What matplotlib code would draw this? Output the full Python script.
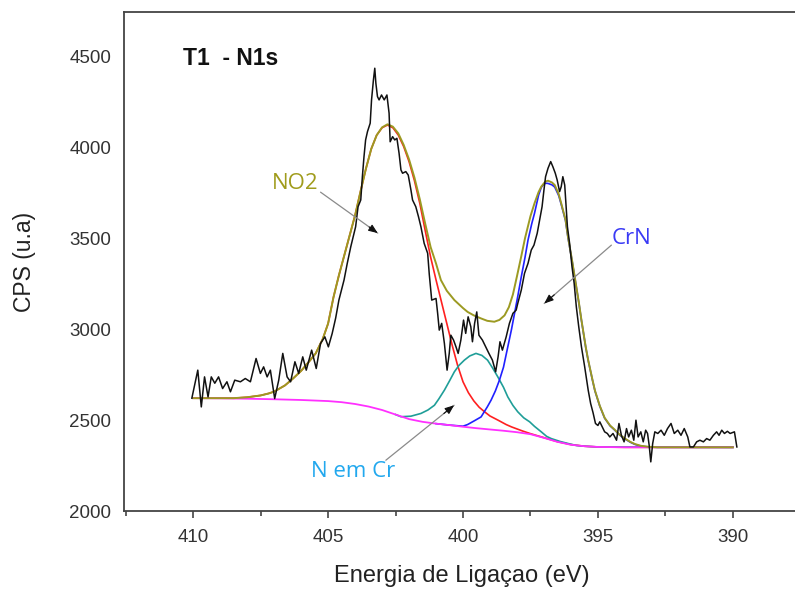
import matplotlib
matplotlib.use("Agg")
import matplotlib.pyplot as plt
from matplotlib.ticker import MultipleLocator

# ---------------- data ----------------
spec_ev = [410.05, 409.83, 409.70, 409.58, 409.45, 409.33, 409.20, 409.06, 408.91, 408.75,
           408.62, 408.46, 408.25, 408.07, 407.88, 407.67, 407.51, 407.39, 407.26, 407.14,
           406.98, 406.83, 406.68, 406.52, 406.39, 406.23, 406.09, 405.94, 405.81, 405.61,
           405.44, 405.28, 405.12, 404.99, 404.85, 404.72, 404.60, 404.41, 404.29, 404.16,
           403.98, 403.89, 403.79, 403.73, 403.67, 403.61, 403.54, 403.44, 403.39, 403.32,
           403.27, 403.23, 403.17, 403.11, 403.02, 402.92, 402.82, 402.74, 402.70, 402.61,
           402.53, 402.45, 402.37, 402.30, 402.24, 402.12, 402.03, 401.93, 401.87, 401.75,
           401.65, 401.56, 401.44, 401.31, 401.25, 401.16, 401.00, 400.94, 400.88, 400.79,
           400.69, 400.59, 400.51, 400.45, 400.35, 400.26, 400.18, 400.08, 399.98, 399.90,
           399.81, 399.71, 399.65, 399.57, 399.49, 399.41, 399.28, 399.16, 399.04, 398.91,
           398.79, 398.70, 398.63, 398.54, 398.40, 398.28, 398.15, 398.03, 397.97, 397.84,
           397.72, 397.59, 397.47, 397.37, 397.25, 397.16, 397.07, 397.00, 396.94, 396.85,
           396.75, 396.67, 396.58, 396.51, 396.42, 396.36, 396.30, 396.23, 396.13, 396.05,
           395.96, 395.88, 395.80, 395.71, 395.61, 395.49, 395.36, 395.27, 395.18, 395.09,
           395.00, 394.93, 394.84, 394.75, 394.65, 394.56, 394.44, 394.31, 394.22, 394.13,
           394.03, 393.94, 393.86, 393.76, 393.67, 393.59, 393.51, 393.41, 393.32, 393.23,
           393.16, 393.10, 393.04, 392.97, 392.89, 392.78, 392.66, 392.54, 392.42, 392.29,
           392.17, 392.04, 391.92, 391.80, 391.67, 391.59, 391.46, 391.34, 391.22, 391.09,
           390.97, 390.85, 390.72, 390.60, 390.51, 390.41, 390.31, 390.20, 390.10, 389.94,
           389.85]
spec_cps = [2620, 2774, 2572, 2737, 2627, 2737, 2702, 2737, 2673, 2710,
            2655, 2719, 2710, 2728, 2710, 2838, 2756, 2792, 2737, 2774,
            2618, 2719, 2866, 2737, 2710, 2820, 2756, 2847, 2774, 2884,
            2783, 2921, 2957, 2902, 2975, 3060, 3159, 3269, 3361, 3452,
            3562, 3672, 3709, 3837, 3947, 4039, 4085, 4131, 4259, 4369,
            4433, 4351, 4277, 4259, 4286, 4259, 4286, 4186, 4029, 4057,
            4039, 4048, 3966, 3874, 3856, 3865, 3846, 3764, 3709, 3672,
            3617, 3562, 3471, 3416, 3300, 3159, 3168, 3086, 2994, 3031,
            2921, 2774, 2866, 2966, 2939, 2902, 2866, 2939, 3049, 2976,
            3067, 3012, 2930, 3031, 3094, 2966, 2939, 2902, 2866, 2829,
            2765, 2847, 2930, 2884, 2957, 3031, 3086, 3104, 3141, 3214,
            3306, 3361, 3434, 3461, 3526, 3599, 3672, 3764, 3837, 3883,
            3920, 3892, 3856, 3819, 3755, 3782, 3837, 3791, 3562, 3471,
            3342, 3251, 3122, 3012, 2902, 2792, 2664, 2591, 2540, 2481,
            2470, 2490, 2462, 2435, 2426, 2407, 2426, 2389, 2481, 2416,
            2380, 2453, 2407, 2444, 2389, 2499, 2407, 2435, 2380, 2444,
            2426, 2361, 2270, 2371, 2435, 2426, 2444, 2416, 2453, 2481,
            2426, 2444, 2416, 2453, 2407, 2352, 2352, 2380, 2389, 2380,
            2398, 2389, 2416, 2435, 2416, 2444, 2426, 2438, 2426, 2435,
            2352]

bg_ev = [410.0, 409.0, 408.0, 407.0, 406.0, 405.0, 404.5, 404.0, 403.5, 403.0, 402.5,
         402.0, 401.5, 401.0, 400.5, 400.0, 399.5, 399.0, 398.5, 398.0, 397.5, 397.0,
         396.5, 396.0, 395.5, 395.0, 394.0, 393.0, 392.0, 391.0, 390.0]
bg_cps = [2620, 2619, 2617, 2614, 2610, 2604, 2598, 2588, 2574, 2555, 2530,
          2505, 2490, 2480, 2472, 2463, 2455, 2448, 2441, 2433, 2422, 2402,
          2380, 2364, 2356, 2352, 2350, 2350, 2350, 2350, 2350]

no2_ev = [410.0, 409.0, 408.5, 408.0, 407.5, 407.2, 407.0, 406.6, 406.3, 406.0, 405.7,
          405.46, 405.2, 405.0, 404.8, 404.6, 404.4, 404.2, 404.0, 403.8, 403.6, 403.4,
          403.2, 403.0, 402.8, 402.6, 402.4, 402.2, 402.0, 401.8, 401.6, 401.4, 401.2,
          401.0, 400.8, 400.6, 400.4, 400.2, 400.0, 399.8, 399.6, 399.4, 399.2, 399.0,
          398.7, 398.4, 398.2, 397.8, 397.5, 397.0, 396.5, 396.0, 395.5, 395.0, 394.0,
          390.0]
no2_cps = [2620, 2620, 2620, 2625, 2635, 2646, 2656, 2690, 2728, 2770, 2822,
           2866, 2945, 3030, 3175, 3295, 3405, 3515, 3625, 3755, 3880, 3990,
           4065, 4106, 4121, 4106, 4066, 4003, 3920, 3815, 3690, 3540, 3395,
           3270, 3150, 3030, 2910, 2800, 2710, 2650, 2605, 2570, 2545, 2522,
           2499, 2475, 2462, 2440, 2425, 2403, 2381, 2365, 2356, 2352, 2350,
           2350]

nemcr_ev = [402.5, 402.3, 401.93, 401.56, 401.3, 401.06, 400.9, 400.69, 400.5, 400.32,
            400.15, 399.95, 399.75, 399.52, 399.3, 399.09, 398.9, 398.71, 398.5, 398.34,
            398.15, 397.97, 397.75, 397.53, 397.35, 397.1, 396.9, 396.73, 396.4, 396.11,
            395.8, 395.5, 395.0, 390.0]
nemcr_cps = [2530, 2518, 2521, 2536, 2555, 2581, 2615, 2664, 2715, 2765,
             2800, 2829, 2852, 2866, 2855, 2829, 2785, 2737, 2680, 2627,
             2580, 2545, 2512, 2490, 2465, 2435, 2410, 2398, 2382, 2371,
             2360, 2356, 2352, 2350]

crn_ev = [401.0, 400.5, 400.0, 399.83, 399.6, 399.33, 399.1, 398.96, 398.8, 398.65,
          398.5, 398.34, 398.2, 398.09, 397.97, 397.84, 397.7, 397.59, 397.45, 397.35,
          397.2, 397.1, 397.0, 396.92, 396.85, 396.7, 396.6, 396.45, 396.36, 396.2,
          396.11, 395.95, 395.86, 395.7, 395.61, 395.45, 395.36, 395.2, 395.11, 394.93,
          394.75, 394.55, 394.38, 394.2, 394.0, 393.8, 393.63, 393.4, 393.13, 392.8, 390.0]
crn_cps = [2480, 2472, 2466, 2475, 2494, 2517, 2572, 2609, 2660, 2719,
           2790, 2902, 3000, 3086, 3180, 3287, 3395, 3489, 3580, 3636,
           3735, 3778, 3798, 3801, 3800, 3792, 3780, 3732, 3685, 3595,
           3503, 3368, 3285, 3138, 3047, 2898, 2827, 2718, 2660, 2576,
           2510, 2468, 2445, 2418, 2396, 2378, 2366, 2356, 2352, 2350, 2350]

env_ev = [410.0, 409.0, 408.5, 408.0, 407.5, 407.2, 407.0, 406.6, 406.3, 406.0, 405.7,
          405.46, 405.2, 405.0, 404.8, 404.6, 404.4, 404.2, 404.0, 403.8, 403.6, 403.4,
          403.2, 403.0, 402.8, 402.6, 402.4, 402.2, 402.0, 401.8, 401.6, 401.4, 401.2,
          401.0, 400.82, 400.6, 400.32, 400.0, 399.83, 399.6, 399.33, 399.1, 398.84,
          398.65, 398.46, 398.3, 398.15, 398.0, 397.84, 397.7, 397.5, 397.35, 397.2,
          397.1, 396.95, 396.85, 396.7, 396.6, 396.45, 396.36, 396.2, 396.11, 395.95,
          395.86, 395.7, 395.61, 395.45, 395.36, 395.2, 395.11, 394.93, 394.75, 394.55,
          394.38, 394.2, 394.0, 393.8, 393.63, 393.4, 393.13, 392.8, 390.0]
env_cps = [2620, 2620, 2620, 2625, 2635, 2646, 2656, 2690, 2728, 2770, 2822,
           2866, 2945, 3030, 3175, 3295, 3405, 3515, 3625, 3755, 3880, 3990,
           4065, 4108, 4125, 4112, 4075, 4012, 3932, 3832, 3712, 3578, 3450,
           3360, 3269, 3210, 3159, 3115, 3094, 3075, 3058, 3045, 3040,
           3050, 3075, 3120, 3190, 3290, 3400, 3500, 3620, 3691, 3752,
           3782, 3810, 3815, 3805, 3791, 3740, 3691, 3600, 3507, 3370,
           3287, 3140, 3049, 2900, 2829, 2720, 2662, 2578, 2512, 2470,
           2447, 2420, 2398, 2380, 2368, 2358, 2353, 2350, 2350]

x_ticks = [410, 405, 400, 395, 390]
y_ticks = [2000, 2500, 3000, 3500, 4000, 4500]

# ---------------- figure ----------------
W, H = 795, 589
fig = plt.figure(figsize=(W / 100, H / 100), dpi=100)
ax = fig.add_axes([124 / W, 1 - 511 / H, 1 - 124 / W, (511 - 12) / H])

olive = "#9c9a22"
ax.plot(no2_ev, no2_cps, color="#ff2020", lw=1.2, zorder=2)
ax.plot(nemcr_ev, nemcr_cps, color="#1f9e98", lw=1.2, zorder=2)
ax.plot(crn_ev, crn_cps, color="#2020ff", lw=1.2, zorder=2)
ax.plot(bg_ev, bg_cps, color="#ff30ff", lw=1.3, zorder=3)
ax.plot(env_ev, env_cps, color=olive, lw=1.4, zorder=4)
ax.plot(spec_ev, spec_cps, color="#111111", lw=1.1, zorder=5)

ax.set_xlim(412.565, 387.695)
ax.set_ylim(2000, 4742)
ax.set_xticks(x_ticks)
ax.set_yticks(y_ticks)
ax.xaxis.set_minor_locator(MultipleLocator(2.5))

for lab in ax.get_xticklabels() + ax.get_yticklabels():
    lab.set_fontfamily("Liberation Sans")
    lab.set_fontsize(13.5)
    lab.set_color("#333333")
ax.tick_params(axis="x", which="major", direction="out", length=5, width=1.2,
               color="#444444", pad=8)
ax.tick_params(axis="x", which="minor", direction="out", length=3.5, width=1.2,
               color="#444444")
ax.tick_params(axis="y", which="both", length=0, pad=9)

for side in ("left", "bottom", "top"):
    ax.spines[side].set_color("#444444")
    ax.spines[side].set_linewidth(1.3)
ax.spines["right"].set_visible(False)

fig.text(462 / W, 1 - 576 / H, "Energia de Ligaçao (eV)", ha="center", va="center",
         fontsize=17, family="Liberation Sans", color="#222222")
fig.text(25 / W, 1 - 262 / H, "CPS (u.a)", ha="center", va="center", rotation=90,
         fontsize=16.5, family="Liberation Sans", color="#222222")

ax.text(410.37, 4489, "T1  - N1s", ha="left", va="center", fontsize=16.5,
        fontweight="bold", family="Liberation Sans", color="#111111")

ann_font = "Open Sans"
ax.text(406.21, 3800, "NO2", ha="center", va="center", fontsize=16,
        family=ann_font, color="#a09c1c")
ax.text(393.75, 3499, "CrN", ha="center", va="center", fontsize=16,
        family=ann_font, color="#3a3af5")
ax.text(404.09, 2218, "N em Cr", ha="center", va="center", fontsize=16,
        family=ann_font, color="#22a8ee")


def arrow(x0, y0, x1, y1):
    ax.annotate("", xy=(x1, y1), xytext=(x0, y0),
                arrowprops=dict(arrowstyle="-", color="#8a8a8a", lw=0.9,
                                shrinkA=0, shrinkB=0), zorder=6)
    fx = x0 + (x1 - x0) * 0.85
    fy = y0 + (y1 - y0) * 0.85
    ax.annotate("", xy=(x1, y1), xytext=(fx, fy),
                arrowprops=dict(arrowstyle="-|>,head_length=0.55,head_width=0.22",
                                color="#111111", lw=0.8, shrinkA=0, shrinkB=0),
                zorder=7)


arrow(405.28, 3752, 403.16, 3527)
arrow(394.50, 3461, 396.99, 3140)
arrow(402.86, 2279, 400.33, 2581)

fig.savefig("out.png", dpi=100)
